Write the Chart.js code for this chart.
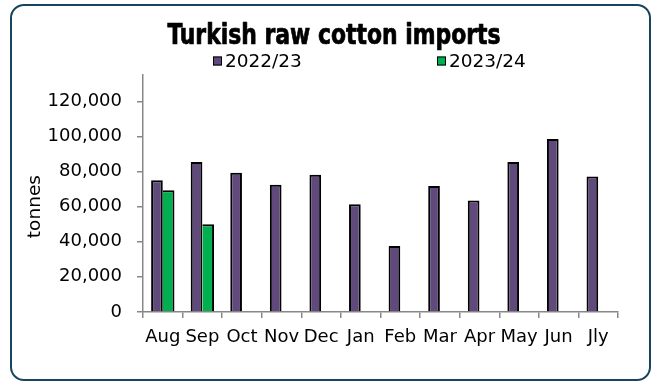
<!DOCTYPE html>
<html><head><meta charset="utf-8">
<script src="https://cdn.jsdelivr.net/npm/chart.js@4"></script>
<style>
html,body{margin:0;padding:0;background:#fff;}
#wrap{position:relative;width:654px;height:382px;overflow:hidden;}
#frame{position:absolute;left:10px;top:4px;width:641px;height:377px;box-sizing:border-box;border:2.5px solid #17455f;border-radius:14px;}
canvas{position:absolute;left:0;top:0;}
</style></head><body>
<div id="wrap"><div id="frame"></div><canvas id="c" width="654" height="382"></canvas></div>
<script>
const chartTitle = 'Turkish raw cotton imports';
const axisTitle = 'tonnes';
const categories = ['Aug','Sep','Oct','Nov','Dec','Jan','Feb','Mar','Apr','May','Jun','Jly'];
const seriesNames = ['2022/23','2023/24'];
const imports2022 = [75000,85400,79300,72400,78100,61400,37600,71800,63500,85400,98500,77200];
const imports2023 = [69300,49900,null,null,null,null,null,null,null,null,null,null];
const yTickValues = [0,20000,40000,60000,80000,100000,120000];
const yMax = 135000;

const PURPLE = '#604A7B', GREEN = '#00B050', AXIS = '#878787';
const FONT = '"DejaVu Sans", sans-serif';

const headerPlugin = {
  id: 'header',
  afterDraw(chart) {
    const ctx = chart.ctx;
    ctx.save();
    ctx.fillStyle = '#000';
    ctx.strokeStyle = '#000';
    // title: heavy condensed face, squeezed to the reference width
    ctx.font = 'bold condensed 28px "DejaVu Sans", sans-serif';
    ctx.textAlign = 'center';
    ctx.textBaseline = 'alphabetic';
    const w = ctx.measureText(chartTitle).width;
    const sx = Math.min(1, 333 / w);
    ctx.save();
    ctx.translate(334, 44);
    ctx.scale(sx, 1);
    ctx.lineWidth = 0.7;
    ctx.lineJoin = 'round';
    ctx.fillText(chartTitle, 0, 0);
    ctx.strokeText(chartTitle, 0, 0);
    ctx.restore();
    // legend
    ctx.textBaseline = 'middle';
    ctx.font = '18.5px ' + FONT;
    ctx.textAlign = 'left';
    const legendX = [213, 437];
    chart.data.datasets.forEach((ds, i) => {
      const x = legendX[i], y = 61;
      ctx.fillStyle = ds.backgroundColor;
      ctx.fillRect(x, y - 4.5, 9, 9);
      ctx.strokeStyle = '#000';
      ctx.lineWidth = 1;
      ctx.strokeRect(x + 0.5, y - 4, 8, 8);
      ctx.fillStyle = '#000';
      ctx.fillText(ds.label, x + 12, y + 1);
    });
    // y axis title, centred on the tick range
    const ys = chart.scales.y;
    const yc = (ys.getPixelForValue(yTickValues[0]) + ys.getPixelForValue(yTickValues[yTickValues.length - 1])) / 2;
    ctx.translate(35, yc);
    ctx.rotate(-Math.PI / 2);
    ctx.textAlign = 'center';
    ctx.font = '18.5px ' + FONT;
    ctx.fillText(axisTitle, 0, 0);
    ctx.restore();
  }
};

new Chart(document.getElementById('c'), {
  type: 'bar',
  data: {
    labels: categories,
    datasets: [
      { label: seriesNames[0], data: imports2022, backgroundColor: PURPLE, borderColor: '#000',
        borderWidth: 2, inflateAmount: 0 },
      { label: seriesNames[1], data: imports2023, backgroundColor: GREEN, borderColor: '#000',
        borderWidth: {top: 2, right: 2, bottom: 0, left: 0}, inflateAmount: 0 }
    ]
  },
  options: {
    responsive: false,
    animation: false,
    layout: { padding: { left: 0, right: 36, top: 75, bottom: 24.5 } },
    datasets: { bar: { categoryPercentage: 0.59, barPercentage: 1.0 } },
    plugins: { legend: { display: false }, title: { display: false }, tooltip: { enabled: false } },
    scales: {
      x: {
        grid: { drawOnChartArea: false, drawTicks: true, tickLength: 6, color: AXIS, lineWidth: 1.5, offset: true },
        border: { display: true, color: AXIS, width: 1.5 },
        ticks: { color: '#000', font: { family: FONT, size: 18 }, padding: 9, autoSkip: false, maxRotation: 0 }
      },
      y: {
        min: 0, max: yMax,
        afterBuildTicks: s => { s.ticks = yTickValues.map(v => ({ value: v })); },
        afterFit: s => { s.width = 143; },
        grid: { drawOnChartArea: false, drawTicks: true, tickLength: 6, color: AXIS, lineWidth: 1.5 },
        border: { display: true, color: AXIS, width: 1.5 },
        ticks: { color: '#000', font: { family: FONT, size: 18 }, padding: 15,
          callback: v => Number(v).toLocaleString('en-US') }
      }
    }
  },
  plugins: [headerPlugin]
});
</script>
</body></html>
